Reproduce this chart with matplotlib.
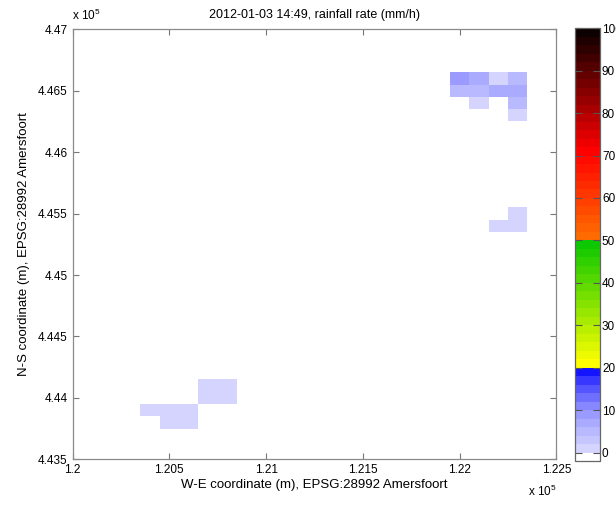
import matplotlib.pyplot as plt
import numpy as np
from matplotlib.colors import ListedColormap
from matplotlib.ticker import FuncFormatter

plt.rcParams['font.family'] = ['Liberation Sans', 'DejaVu Sans']
plt.rcParams['mathtext.fontset'] = 'custom'
plt.rcParams['mathtext.rm'] = 'Liberation Sans'

# rain cells (100 m grid), centre coordinates in EPSG:28992 and rate in mm/h
rain_x = [122000, 122100, 122200, 122300,
          122000, 122100, 122200, 122300,
          122100, 122300,
          122300,
          122300, 122200, 122300,
          120700, 120800, 120700, 120800,
          120400, 120500, 120600,
          120500, 120600]
rain_y = [446600, 446600, 446600, 446600,
          446500, 446500, 446500, 446500,
          446400, 446400,
          446300,
          445500, 445400, 445400,
          444100, 444100, 444000, 444000,
          443900, 443900, 443900,
          443800, 443800]
rain_rate = [9, 7, 1, 5,
             5, 5, 7, 7,
             1, 5,
             1,
             1, 1, 1,
             1, 1, 1, 1,
             1, 1, 1,
             1, 1]

x_ticks = [120000, 120500, 121000, 121500, 122000, 122500]
y_ticks = [443500, 444000, 444500, 445000, 445500, 446000, 446500, 447000]
cbar_ticks = [0, 10, 20, 30, 40, 50, 60, 70, 80, 90, 100]
title = '2012-01-03 14:49, rainfall rate (mm/h)'

# colour map: white below 0, blues 0-20, yellow->green 20-50, orange->red->black 50-100
blues = [212, 198, 185, 170, 155, 135, 110, 85, 55, 20]
cols = [(1, 1, 1)]
cols += [(g / 255, g / 255, 1.0) for g in blues]
t = np.linspace(0, 1, 15)
cols += [(1 - t_ * 0.95, 1 - t_ * 0.22, 0.0) for t_ in t]
t = np.linspace(50, 98, 25)
r = np.interp(t, [50, 70, 98], [1.0, 1.0, 0.05])
g = np.interp(t, [50, 70, 98], [0.42, 0.0, 0.0])
cols += [(a, b, 0.0) for a, b in zip(r, g)]
cmap = ListedColormap(cols)

# grid for pcolormesh
xe = np.arange(120000 - 50, 122500 + 51, 100)
ye = np.arange(443500 - 50, 447000 + 51, 100)
grid = np.full((len(ye) - 1, len(xe) - 1), np.nan)
for x, y, v in zip(rain_x, rain_y, rain_rate):
    i = int(round((y - ye[0] - 50) / 100))
    j = int(round((x - xe[0] - 50) / 100))
    grid[i, j] = v

fig = plt.figure(figsize=(6.16, 5.05), dpi=100)
ax = fig.add_axes([0.1177, 0.0905, 0.7857, 0.8515])
mesh = ax.pcolormesh(xe, ye, np.ma.masked_invalid(grid), cmap=cmap, vmin=-2, vmax=100)
ax.set_xlim(120000, 122500)
ax.set_ylim(443500, 447000)
ax.set_xticks(x_ticks)
ax.set_yticks(y_ticks)
fmt = FuncFormatter(lambda v, p: f'{v / 1e5:g}')
ax.xaxis.set_major_formatter(fmt)
ax.yaxis.set_major_formatter(fmt)
ax.tick_params(direction='in', top=True, right=True, length=4, labelsize=8.5,
               color='#777777', width=0.8)
for s in ax.spines.values():
    s.set_color('#8a8a8a')
    s.set_linewidth(0.9)
ax.set_title(title, fontsize=9, pad=8)
ax.set_xlabel('W-E coordinate (m), EPSG:28992 Amersfoort', fontsize=9.5, labelpad=2)
ax.set_ylabel('N-S coordinate (m), EPSG:28992 Amersfoort', fontsize=9.5, labelpad=6)

# exponent labels like MATLAB
fig.text(72 / 616, 1 - 23 / 505, r'x 10$^{5}$', fontsize=8.5, va='bottom', ha='left')
fig.text(528 / 616, 1 - 499 / 505, r'x 10$^{5}$', fontsize=8.5, va='bottom', ha='left')

cax = fig.add_axes([0.934, 0.0871, 0.0398, 0.8569])
cb = fig.colorbar(mesh, cax=cax, ticks=cbar_ticks)
cb.outline.set_edgecolor('#666666')
cb.outline.set_linewidth(0.9)
cax.tick_params(direction='in', left=True, right=True, length=5, labelsize=8.5,
                color='#555555', width=0.8, pad=1.5)

plt.savefig('out.png', dpi=100)
